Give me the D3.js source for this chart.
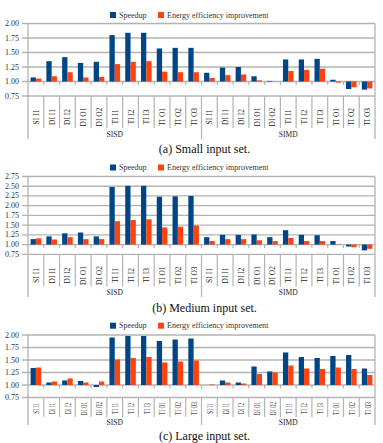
<!DOCTYPE html>
<html>
<head>
<meta charset="utf-8">
<script src="https://cdn.jsdelivr.net/npm/d3@7"></script>
<style>
  html, body { margin: 0; padding: 0; background: #fff; }
  svg { display: block; }
  text { font-family: "Liberation Serif", "DejaVu Serif", serif; }
</style>
</head>
<body>
<svg id="chart"></svg>
<script>
// categories and groups
const categories = ["SI I1", "DI I1", "DI I2", "DI O1", "DI O2", "TI I1", "TI I2", "TI I3", "TI O1", "TI O2", "TI O3"];
const groups = ["SISD", "SIMD"];
const seriesNames = ["Speedup", "Energy efficiency improvement"];
const captions = ["(a)  Small input set.", "(b)  Medium input set.", "(c)  Large input set."];

// tick labels
const ticksSmall = [0.75, 1.00, 1.25, 1.50, 1.75, 2.00];
const ticksMedium = [0.75, 1.00, 1.25, 1.50, 1.75, 2.00, 2.25, 2.50, 2.75];
const ticksLarge = [0.75, 1.00, 1.25, 1.50, 1.75, 2.00];

// values (SISD 11 then SIMD 11)
const smallSpeedup = [1.07, 1.35, 1.42, 1.32, 1.34, 1.80, 1.84, 1.84, 1.57, 1.58, 1.58,
                      1.15, 1.24, 1.25, 1.09, 1.01, 1.38, 1.38, 1.39, 1.03, 0.87, 0.86];
const smallEnergy  = [1.05, 1.09, 1.16, 1.07, 1.08, 1.30, 1.34, 1.35, 1.17, 1.16, 1.16,
                      1.06, 1.11, 1.12, 1.02, 1.00, 1.18, 1.20, 1.22, 0.98, 0.90, 0.88];

const mediumSpeedup = [1.14, 1.21, 1.29, 1.31, 1.21, 2.48, 2.51, 2.51, 2.23, 2.24, 2.25,
                       1.19, 1.25, 1.25, 1.26, 1.19, 1.37, 1.25, 1.24, 1.09, 0.95, 0.85];
const mediumEnergy  = [1.16, 1.13, 1.19, 1.14, 1.14, 1.60, 1.63, 1.65, 1.44, 1.46, 1.49,
                       1.09, 1.14, 1.14, 1.11, 1.09, 1.17, 1.09, 1.09, 1.01, 0.93, 0.89];

const largeSpeedup = [1.34, 1.05, 1.09, 1.08, 0.96, 1.95, 1.98, 1.98, 1.88, 1.91, 1.93,
                      1.00, 1.09, 1.05, 1.37, 1.27, 1.65, 1.56, 1.54, 1.58, 1.60, 1.33];
const largeEnergy  = [1.35, 1.07, 1.13, 1.05, 1.07, 1.51, 1.54, 1.56, 1.45, 1.47, 1.49,
                      1.01, 1.05, 1.03, 1.22, 1.25, 1.39, 1.33, 1.32, 1.35, 1.32, 1.20];

const W = 383, H = 443;
const colors = ["#004586", "#ff420e"];
const grid = "#b3b3b3";
const plotLeft = 28, plotRight = 375;

const svg = d3.select("#chart").attr("width", W).attr("height", H);

const panels = [
  { speed: smallSpeedup, energy: smallEnergy, ticks: ticksSmall, caption: captions[0],
    legendY: 15, top: 23.5, bottom: 96, labelY: 117, boxBottom: 128, groupY: 134, groupBottom: 139, captionY: 149, labelScale: 1 },
  { speed: mediumSpeedup, energy: mediumEnergy, ticks: ticksMedium, caption: captions[1],
    legendY: 167.5, top: 176.5, bottom: 254.3, labelY: 275.5, boxBottom: 286.5, groupY: 292, groupBottom: 297, captionY: 308, labelScale: 1 },
  { speed: largeSpeedup, energy: largeEnergy, ticks: ticksLarge, caption: captions[2],
    legendY: 325.7, top: 335, bottom: 397.5, labelY: 408.5, boxBottom: 417, groupY: 422, groupBottom: 425, captionY: 435.5, labelScale: 0.7 }
];

const allCats = groups.flatMap(g => categories.map(c => g + "|" + c));

const x0 = d3.scaleBand().domain(allCats).range([plotLeft, plotRight]).paddingInner(0).paddingOuter(0);
const x1 = d3.scaleBand().domain([0, 1]).range([0, x0.bandwidth()]).paddingInner(0).paddingOuter(0.49);
const xg = d3.scaleBand().domain(groups).range([plotLeft, plotRight]);

panels.forEach(p => {
  const g = svg.append("g");
  const lo = p.ticks[0], hi = p.ticks[p.ticks.length - 1];
  const y = d3.scaleLinear().domain([lo, hi]).range([p.bottom, p.top]);

  // gridlines + tick labels
  g.selectAll(".grid").data(p.ticks).enter().append("line")
    .attr("x1", plotLeft - 6).attr("x2", plotRight)
    .attr("y1", d => y(d)).attr("y2", d => y(d))
    .attr("stroke", grid).attr("stroke-width", 1.3);

  g.selectAll(".tick").data(p.ticks).enter().append("text")
    .attr("x", 19).attr("y", d => y(d))
    .attr("text-anchor", "end").attr("dominant-baseline", "central")
    .attr("font-size", "8px").attr("fill", "#333")
    .text(d => d3.format(".2f")(d));

  // plot border
  g.append("line").attr("x1", plotLeft).attr("x2", plotLeft).attr("y1", p.top).attr("y2", p.groupBottom)
    .attr("stroke", grid).attr("stroke-width", 1.3);
  g.append("line").attr("x1", plotRight).attr("x2", plotRight).attr("y1", p.top).attr("y2", p.groupBottom)
    .attr("stroke", grid).attr("stroke-width", 1.3);

  // category axis at 1.00 with small ticks
  g.selectAll(".xt").data(allCats.slice(1)).enter().append("line")
    .attr("x1", d => x0(d)).attr("x2", d => x0(d))
    .attr("y1", y(1)).attr("y2", y(1) + 3.5)
    .attr("stroke", grid).attr("stroke-width", 1.2);

  // label boxes
  g.selectAll(".box").data(allCats.slice(1)).enter().append("line")
    .attr("x1", d => x0(d)).attr("x2", d => x0(d))
    .attr("y1", p.bottom).attr("y2", d => d === "SIMD|" + categories[0] ? p.groupBottom : p.boxBottom)
    .attr("stroke", grid).attr("stroke-width", 1.2);

  // bars
  const rows = allCats.map((c, i) => ({ cat: c, vals: [p.speed[i], p.energy[i]] }));
  const cg = g.selectAll(".cat").data(rows).enter().append("g")
    .attr("transform", d => `translate(${x0(d.cat)},0)`);
  cg.selectAll("rect").data(d => d.vals).enter().append("rect")
    .attr("x", (d, i) => x1(i))
    .attr("width", x1.bandwidth())
    .attr("y", d => y(Math.max(d, 1)))
    .attr("height", d => Math.abs(y(d) - y(1)))
    .attr("fill", (d, i) => colors[i]);

  // category labels (rotated)
  cg.append("text")
    .attr("transform", d => `translate(${x0.bandwidth() / 2 + 0.5},${p.labelY}) scale(1,${p.labelScale}) rotate(-90)`)
    .attr("text-anchor", "middle").attr("dominant-baseline", "central")
    .attr("font-size", "7.5px").attr("fill", "#222")
    .text(d => d.cat.split("|")[1]);

  // group labels
  g.selectAll(".grp").data(groups).enter().append("text")
    .attr("x", d => xg(d) + xg.bandwidth() / 2).attr("y", p.groupY)
    .attr("text-anchor", "middle").attr("dominant-baseline", "central")
    .attr("font-size", "7.5px").attr("fill", "#222")
    .text(d => d);

  // legend
  const lg = g.append("g").attr("transform", `translate(110,${p.legendY})`);
  const lx = [0, 48];
  seriesNames.forEach((s, i) => {
    lg.append("rect").attr("x", lx[i]).attr("y", -3).attr("width", 6).attr("height", 6).attr("fill", colors[i]);
    lg.append("text").attr("x", lx[i] + 9).attr("y", 0).attr("dominant-baseline", "central")
      .attr("font-size", "8px").attr("fill", "#333").text(s);
  });

  // caption
  g.append("text").attr("x", (plotLeft + plotRight) / 2 + 3).attr("y", p.captionY)
    .attr("text-anchor", "middle").attr("dominant-baseline", "central")
    .attr("font-size", "12px").attr("fill", "#111")
    .text(p.caption);
});
</script>
</body>
</html>
